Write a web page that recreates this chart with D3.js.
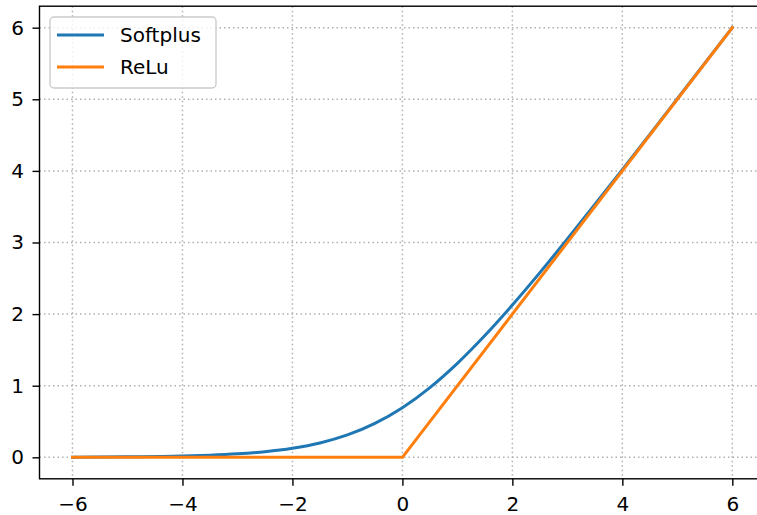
<!DOCTYPE html>
<html><head><meta charset="utf-8">
<script src="https://cdn.jsdelivr.net/npm/d3@7"></script>
<style>body{margin:0;background:#fff}svg{display:block}text{font-family:"DejaVu Sans",sans-serif}</style>
</head><body><svg id="c" width="757" height="515"></svg>
<script>
const xTicks = [-6, -4, -2, 0, 2, 4, 6];
const yTicks = [0, 1, 2, 3, 4, 5, 6];
const seriesNames = ["Softplus", "ReLu"];
const seriesColors = ["#1f77b4", "#ff7f0e"];
const softX = [-6, -5, -4, -3.5, -3, -2.5, -2, -1.5, -1, -0.5, 0, 0.5, 1, 1.5, 2, 2.5, 3, 3.5, 4, 4.5, 5, 5.5, 6];
const softY = [0.0025, 0.0067, 0.018, 0.030, 0.049, 0.079, 0.127, 0.201, 0.313, 0.474, 0.693, 0.974, 1.313, 1.701, 2.127, 2.579, 3.049, 3.530, 4.018, 4.511, 5.007, 5.504, 6.002];
const reluX = [-6, 0, 6];
const reluY = [0, 0, 6];

const svg = d3.select("#c");
const L = 39.5, R = 765.3, T = 6.2, B = 478.8;
const x = d3.scaleLinear().domain([-6.6, 6.6]).range([L, R]);
const y = d3.scaleLinear().domain([-0.3, 6.3]).range([B, T]);
const fs = 20;
const lw = 3;

svg.append("defs").append("clipPath").attr("id","clip").append("rect")
  .attr("x", L).attr("y", T).attr("width", R-L).attr("height", B-T);

// grid
const g = svg.append("g");
g.selectAll(".gx").data(xTicks).join("line")
  .attr("x1", d=>x(d)).attr("x2", d=>x(d)).attr("y1", T).attr("y2", B)
  .attr("stroke", "#b0b0b0").attr("stroke-width", 1.5).attr("stroke-dasharray", "1.5,3");
g.selectAll(".gy").data(yTicks).join("line")
  .attr("y1", d=>y(d)).attr("y2", d=>y(d)).attr("x1", L).attr("x2", R)
  .attr("stroke", "#b0b0b0").attr("stroke-width", 1.5).attr("stroke-dasharray", "1.5,3");

// lines
const line = d3.line().x(d=>x(d[0])).y(d=>y(d[1]));
const softLine = d3.line().x(d=>x(d[0])).y(d=>y(d[1])).curve(d3.curveMonotoneX);
const lg = svg.append("g").attr("clip-path","url(#clip)");
lg.append("path").datum(softX.map((v,i)=>[v, softY[i]])).attr("d", softLine)
  .attr("fill","none").attr("stroke", seriesColors[0]).attr("stroke-width", lw).attr("stroke-linejoin","round").attr("stroke-linecap","square");
lg.append("path").datum(reluX.map((v,i)=>[v, reluY[i]])).attr("d", line)
  .attr("fill","none").attr("stroke", seriesColors[1]).attr("stroke-width", lw).attr("stroke-linejoin","round").attr("stroke-linecap","square");

// axes
const xa = svg.append("g").attr("transform", `translate(0,${B})`)
  .call(d3.axisBottom(x).tickValues(xTicks).tickSize(7).tickPadding(11).tickFormat(d=>d<0?"\u2212"+Math.abs(d):String(d)));
const ya = svg.append("g").attr("transform", `translate(${L},0)`)
  .call(d3.axisLeft(y).tickValues(yTicks).tickSize(7).tickPadding(8.5).tickFormat(d3.format("d")));
[xa, ya].forEach(a=>{
  a.select(".domain").remove();
  a.selectAll("line").attr("stroke","#000").attr("stroke-width",1.4);
  a.selectAll("text").attr("font-size", fs).attr("fill","#000").attr("font-family","DejaVu Sans");
});

// spines
svg.append("rect").attr("x", L).attr("y", T).attr("width", R-L).attr("height", B-T)
  .attr("fill","none").attr("stroke","#000").attr("stroke-width",1.4);

// legend
const leg = svg.append("g");
leg.append("rect").attr("x", 50).attr("y", 17).attr("width", 166).attr("height", 71).attr("rx", 4)
  .attr("fill","#fff").attr("fill-opacity",0.8).attr("stroke","#cccccc").attr("stroke-width",1.4);
seriesNames.forEach((n,i)=>{
  const yy = 35 + i*32;
  leg.append("line").attr("x1", 57).attr("x2", 104).attr("y1", yy).attr("y2", yy)
    .attr("stroke", seriesColors[i]).attr("stroke-width", lw);
  leg.append("text").attr("x", 120).attr("y", yy + 7).attr("font-size", fs).text(n);
});
</script></body></html>
